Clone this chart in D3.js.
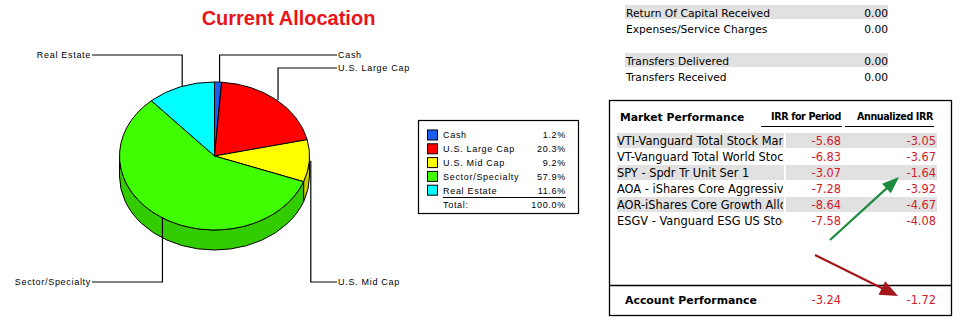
<!DOCTYPE html>
<html>
<head>
<meta charset="utf-8">
<script src="https://cdn.jsdelivr.net/npm/d3@7"></script>
<style>
  html, body { margin: 0; padding: 0; background: #fff; }
  svg { display: block; }
</style>
</head>
<body>
<svg id="chart" width="960" height="326"></svg>
<script>
// ---------------- data ----------------
const categories = ["Cash", "U.S. Large Cap", "U.S. Mid Cap", "Sector/Specialty", "Real Estate"];
const allocation = [1.2, 20.3, 9.2, 57.9, 11.6];
const allocationTotal = "100.0%";
const topColors = ["#1a5ff0", "#ff0000", "#ffff00", "#40ff00", "#00ffff"];
const sideColors = ["#1248b8", "#cc0000", "#cccc00", "#33cc00", "#00cccc"];
// label placement side (annotation layout)
const labelSide = ["right", "right", "right", "left", "left"];

const cashflowLabels = ["Return Of Capital Received", "Expenses/Service Charges", "", "Transfers Delivered", "Transfers Received"];
const cashflowValues = [0.00, 0.00, null, 0.00, 0.00];

const funds = [
  "VTI-Vanguard Total Stock Mar",
  "VT-Vanguard Total World Stoc",
  "SPY - Spdr Tr Unit Ser 1",
  "AOA - iShares Core Aggressive",
  "AOR-iShares Core Growth Allo",
  "ESGV - Vanguard ESG US Stoc"
];
const irrPeriod = [-5.68, -6.83, -3.07, -7.28, -8.64, -7.58];
const irrAnnual = [-3.05, -3.67, -1.64, -3.92, -4.67, -4.08];
const accountPeriod = -3.24;
const accountAnnual = -1.72;

// ---------------- setup ----------------
const svg = d3.select("#chart");
const labelFont = "'Liberation Sans', Arial, sans-serif";
const tableFont = "'DejaVu Sans', Verdana, sans-serif";
const loc = d3.formatLocale({ decimal: ".", thousands: ",", grouping: [3], currency: ["$", ""], minus: "-" });
const f2 = loc.format(".2f");
const f1 = loc.format(".1f");

// Title
svg.append("text")
  .attr("x", 288.5).attr("y", 25)
  .attr("text-anchor", "middle")
  .attr("font-family", labelFont)
  .attr("font-weight", "bold")
  .attr("font-size", 20)
  .attr("fill", "#e8131b")
  .text("Current Allocation");

// ---------------- 3D pie ----------------
const cx = 214.5, cy = 156, rx = 95, ry = 74, depth = 20;
const pt = (a, dy = 0) => [cx + rx * Math.sin(a), cy - ry * Math.cos(a) + dy];
const pieGen = d3.pie().sort(null).value(d => d);
const arcs = pieGen(allocation);

const g = svg.append("g");

// side walls (front half only)
arcs.forEach((d, i) => {
  const a0 = Math.max(d.startAngle, Math.PI / 2);
  const a1 = Math.min(d.endAngle, 3 * Math.PI / 2);
  if (a1 <= a0) return;
  const p0 = pt(a0), p1 = pt(a1), q1 = pt(a1, depth), q0 = pt(a0, depth);
  const large = (a1 - a0) > Math.PI ? 1 : 0;
  const path = `M${p0}A${rx},${ry} 0 ${large} 1 ${p1}L${q1}A${rx},${ry} 0 ${large} 0 ${q0}Z`;
  g.append("path").attr("d", path)
    .attr("fill", sideColors[i])
    .attr("stroke", "#000").attr("stroke-width", 1).attr("stroke-linejoin", "round");
});

// top faces
arcs.forEach((d, i) => {
  const p0 = pt(d.startAngle), p1 = pt(d.endAngle);
  const large = (d.endAngle - d.startAngle) > Math.PI ? 1 : 0;
  const path = `M${cx},${cy}L${p0}A${rx},${ry} 0 ${large} 1 ${p1}Z`;
  g.append("path").attr("d", path)
    .attr("fill", topColors[i])
    .attr("stroke", "#000").attr("stroke-width", 1).attr("stroke-linejoin", "round");
});

// leader lines & labels
const labelRowsY = { right: [55, 68, 282], left: [282, 55] };
let rCount = 0, lCount = 0;
arcs.forEach((d, i) => {
  const mid = (d.startAngle + d.endAngle) / 2;
  const anchor = pt(mid);
  const side = labelSide[i];
  const ly = side === "right" ? labelRowsY.right[rCount++] : labelRowsY.left[lCount++];
  const ax = anchor[0] + 1.5;
  const endX = side === "right" ? 337 : 92;
  svg.append("path")
    .attr("d", `M${ax},${anchor[1]}V${ly}H${endX}`)
    .attr("fill", "none").attr("stroke", "#000").attr("stroke-width", 1.2);
  svg.append("text")
    .attr("x", side === "right" ? endX + 1 : endX - 1)
    .attr("y", ly + 3.2)
    .attr("text-anchor", side === "right" ? "start" : "end")
    .attr("font-family", labelFont).attr("font-size", 9)
    .attr("letter-spacing", 0.7)
    .attr("fill", "#000")
    .text(categories[i]);
});

// ---------------- legend ----------------
const lg = svg.append("g");
lg.append("rect").attr("x", 418.5).attr("y", 120.5).attr("width", 160).attr("height", 93)
  .attr("fill", "#fff").attr("stroke", "#000").attr("stroke-width", 1.2);
const ly0 = 135, lstep = 13.8;
categories.forEach((c, i) => {
  const y = ly0 + i * lstep;
  lg.append("rect").attr("x", 427.5).attr("y", y - 5).attr("width", 10).attr("height", 10)
    .attr("fill", topColors[i]).attr("stroke", "#000").attr("stroke-width", 1);
  lg.append("text").attr("x", 443).attr("y", y + 3.3)
    .attr("font-family", labelFont).attr("font-size", 9).attr("letter-spacing", 0.7)
    .text(c);
  lg.append("text").attr("x", 566).attr("y", y + 3.3).attr("text-anchor", "end")
    .attr("font-family", labelFont).attr("font-size", 9).attr("letter-spacing", 0.7)
    .text(f1(allocation[i]) + "%");
});
lg.append("line").attr("x1", 443).attr("x2", 566).attr("y1", 197.5).attr("y2", 197.5)
  .attr("stroke", "#000").attr("stroke-width", 1);
lg.append("text").attr("x", 443).attr("y", 208.3)
  .attr("font-family", labelFont).attr("font-size", 9).attr("letter-spacing", 0.7).text("Total:");
lg.append("text").attr("x", 566).attr("y", 208.3).attr("text-anchor", "end")
  .attr("font-family", labelFont).attr("font-size", 9).attr("letter-spacing", 0.7).text(allocationTotal);

// ---------------- cash flow rows ----------------
const cf = svg.append("g");
const cfY = d3.scaleBand().domain(d3.range(cashflowLabels.length)).range([5, 85]).padding(0);
cashflowLabels.forEach((lab, i) => {
  if (!lab) return;
  const y = cfY(i);
  if (i === 0 || i === 3) {
    cf.append("rect").attr("x", 625).attr("y", y).attr("width", 263).attr("height", 14).attr("fill", "#e1e1e1");
  }
  cf.append("text").attr("x", 626).attr("y", y + 12)
    .attr("font-family", tableFont).attr("font-size", 10.7).attr("fill", "#000").text(lab);
  cf.append("text").attr("x", 888).attr("y", y + 12).attr("text-anchor", "end")
    .attr("font-family", tableFont).attr("font-size", 10.7).attr("fill", "#000")
    .text(f2(cashflowValues[i]));
});

// ---------------- market performance ----------------
const mp = svg.append("g");
mp.append("rect").attr("x", 609.5).attr("y", 100.5).attr("width", 342).attr("height", 215)
  .attr("fill", "#fff").attr("stroke", "#000").attr("stroke-width", 1.3);
mp.append("line").attr("x1", 609.5).attr("x2", 951.5).attr("y1", 285.5).attr("y2", 285.5)
  .attr("stroke", "#000").attr("stroke-width", 1.3);

mp.append("text").attr("x", 620).attr("y", 121)
  .attr("font-family", tableFont).attr("font-weight", "bold").attr("font-size", 10.8).text("Market Performance");
mp.append("text").attr("x", 841).attr("y", 120).attr("text-anchor", "end")
  .attr("font-family", tableFont).attr("font-weight", "bold").attr("font-size", 9.6).attr("letter-spacing", -0.4)
  .text("IRR for Period");
mp.append("text").attr("x", 933).attr("y", 120).attr("text-anchor", "end")
  .attr("font-family", tableFont).attr("font-weight", "bold").attr("font-size", 9.6).attr("letter-spacing", -0.4)
  .text("Annualized IRR");
mp.append("line").attr("x1", 761).attr("x2", 842).attr("y1", 126.5).attr("y2", 126.5).attr("stroke", "#000").attr("stroke-width", 1.2);
mp.append("line").attr("x1", 845).attr("x2", 934).attr("y1", 126.5).attr("y2", 126.5).attr("stroke", "#000").attr("stroke-width", 1.2);

const rowY = d3.scaleBand().domain(d3.range(funds.length)).range([133, 229]).padding(0);
svg.append("defs").append("clipPath").attr("id", "nameClip")
  .append("rect").attr("x", 610).attr("y", 120).attr("width", 173).attr("height", 120);

const valRed = "#d0202a";
funds.forEach((f, i) => {
  const y = rowY(i);
  if (i % 2 === 0) {
    mp.append("rect").attr("x", 617).attr("y", y).attr("width", 167).attr("height", 15).attr("fill", "#e1e1e1");
    mp.append("rect").attr("x", 786).attr("y", y).attr("width", 151).attr("height", 15).attr("fill", "#e1e1e1");
  }
  mp.append("text").attr("x", 617).attr("y", y + 12.2)
    .attr("clip-path", "url(#nameClip)")
    .attr("font-family", tableFont).attr("font-size", 11.4).attr("fill", "#000").text(f);
  mp.append("text").attr("x", 841).attr("y", y + 12.2).attr("text-anchor", "end")
    .attr("font-family", tableFont).attr("font-size", 11.4).attr("fill", valRed).text(f2(irrPeriod[i]));
  mp.append("text").attr("x", 936).attr("y", y + 12.2).attr("text-anchor", "end")
    .attr("font-family", tableFont).attr("font-size", 11.4).attr("fill", valRed).text(f2(irrAnnual[i]));
});

mp.append("text").attr("x", 625).attr("y", 304)
  .attr("font-family", tableFont).attr("font-weight", "bold").attr("font-size", 10.9).text("Account Performance");
mp.append("text").attr("x", 841).attr("y", 304).attr("text-anchor", "end")
  .attr("font-family", tableFont).attr("font-size", 11.4).attr("fill", valRed).text(f2(accountPeriod));
mp.append("text").attr("x", 936).attr("y", 304).attr("text-anchor", "end")
  .attr("font-family", tableFont).attr("font-size", 11.4).attr("fill", valRed).text(f2(accountAnnual));

// ---------------- arrows ----------------
function arrow(x1, y1, x2, y2, color, headLen, headW, width) {
  const ang = Math.atan2(y2 - y1, x2 - x1);
  const bx = x2 - headLen * Math.cos(ang), by = y2 - headLen * Math.sin(ang);
  const nx = -Math.sin(ang) * headW / 2, ny = Math.cos(ang) * headW / 2;
  svg.append("line").attr("x1", x1).attr("y1", y1).attr("x2", bx + 2 * Math.cos(ang)).attr("y2", by + 2 * Math.sin(ang))
    .attr("stroke", color).attr("stroke-width", width);
  svg.append("path").attr("d", `M${x2},${y2}L${bx + nx},${by + ny}L${bx - nx},${by - ny}Z`).attr("fill", color);
}
arrow(830, 240, 899, 177, "#1c8a3e", 17, 13, 2.2);
arrow(815, 255, 898, 296, "#a5161a", 18, 15, 2.2);
</script>
</body>
</html>
